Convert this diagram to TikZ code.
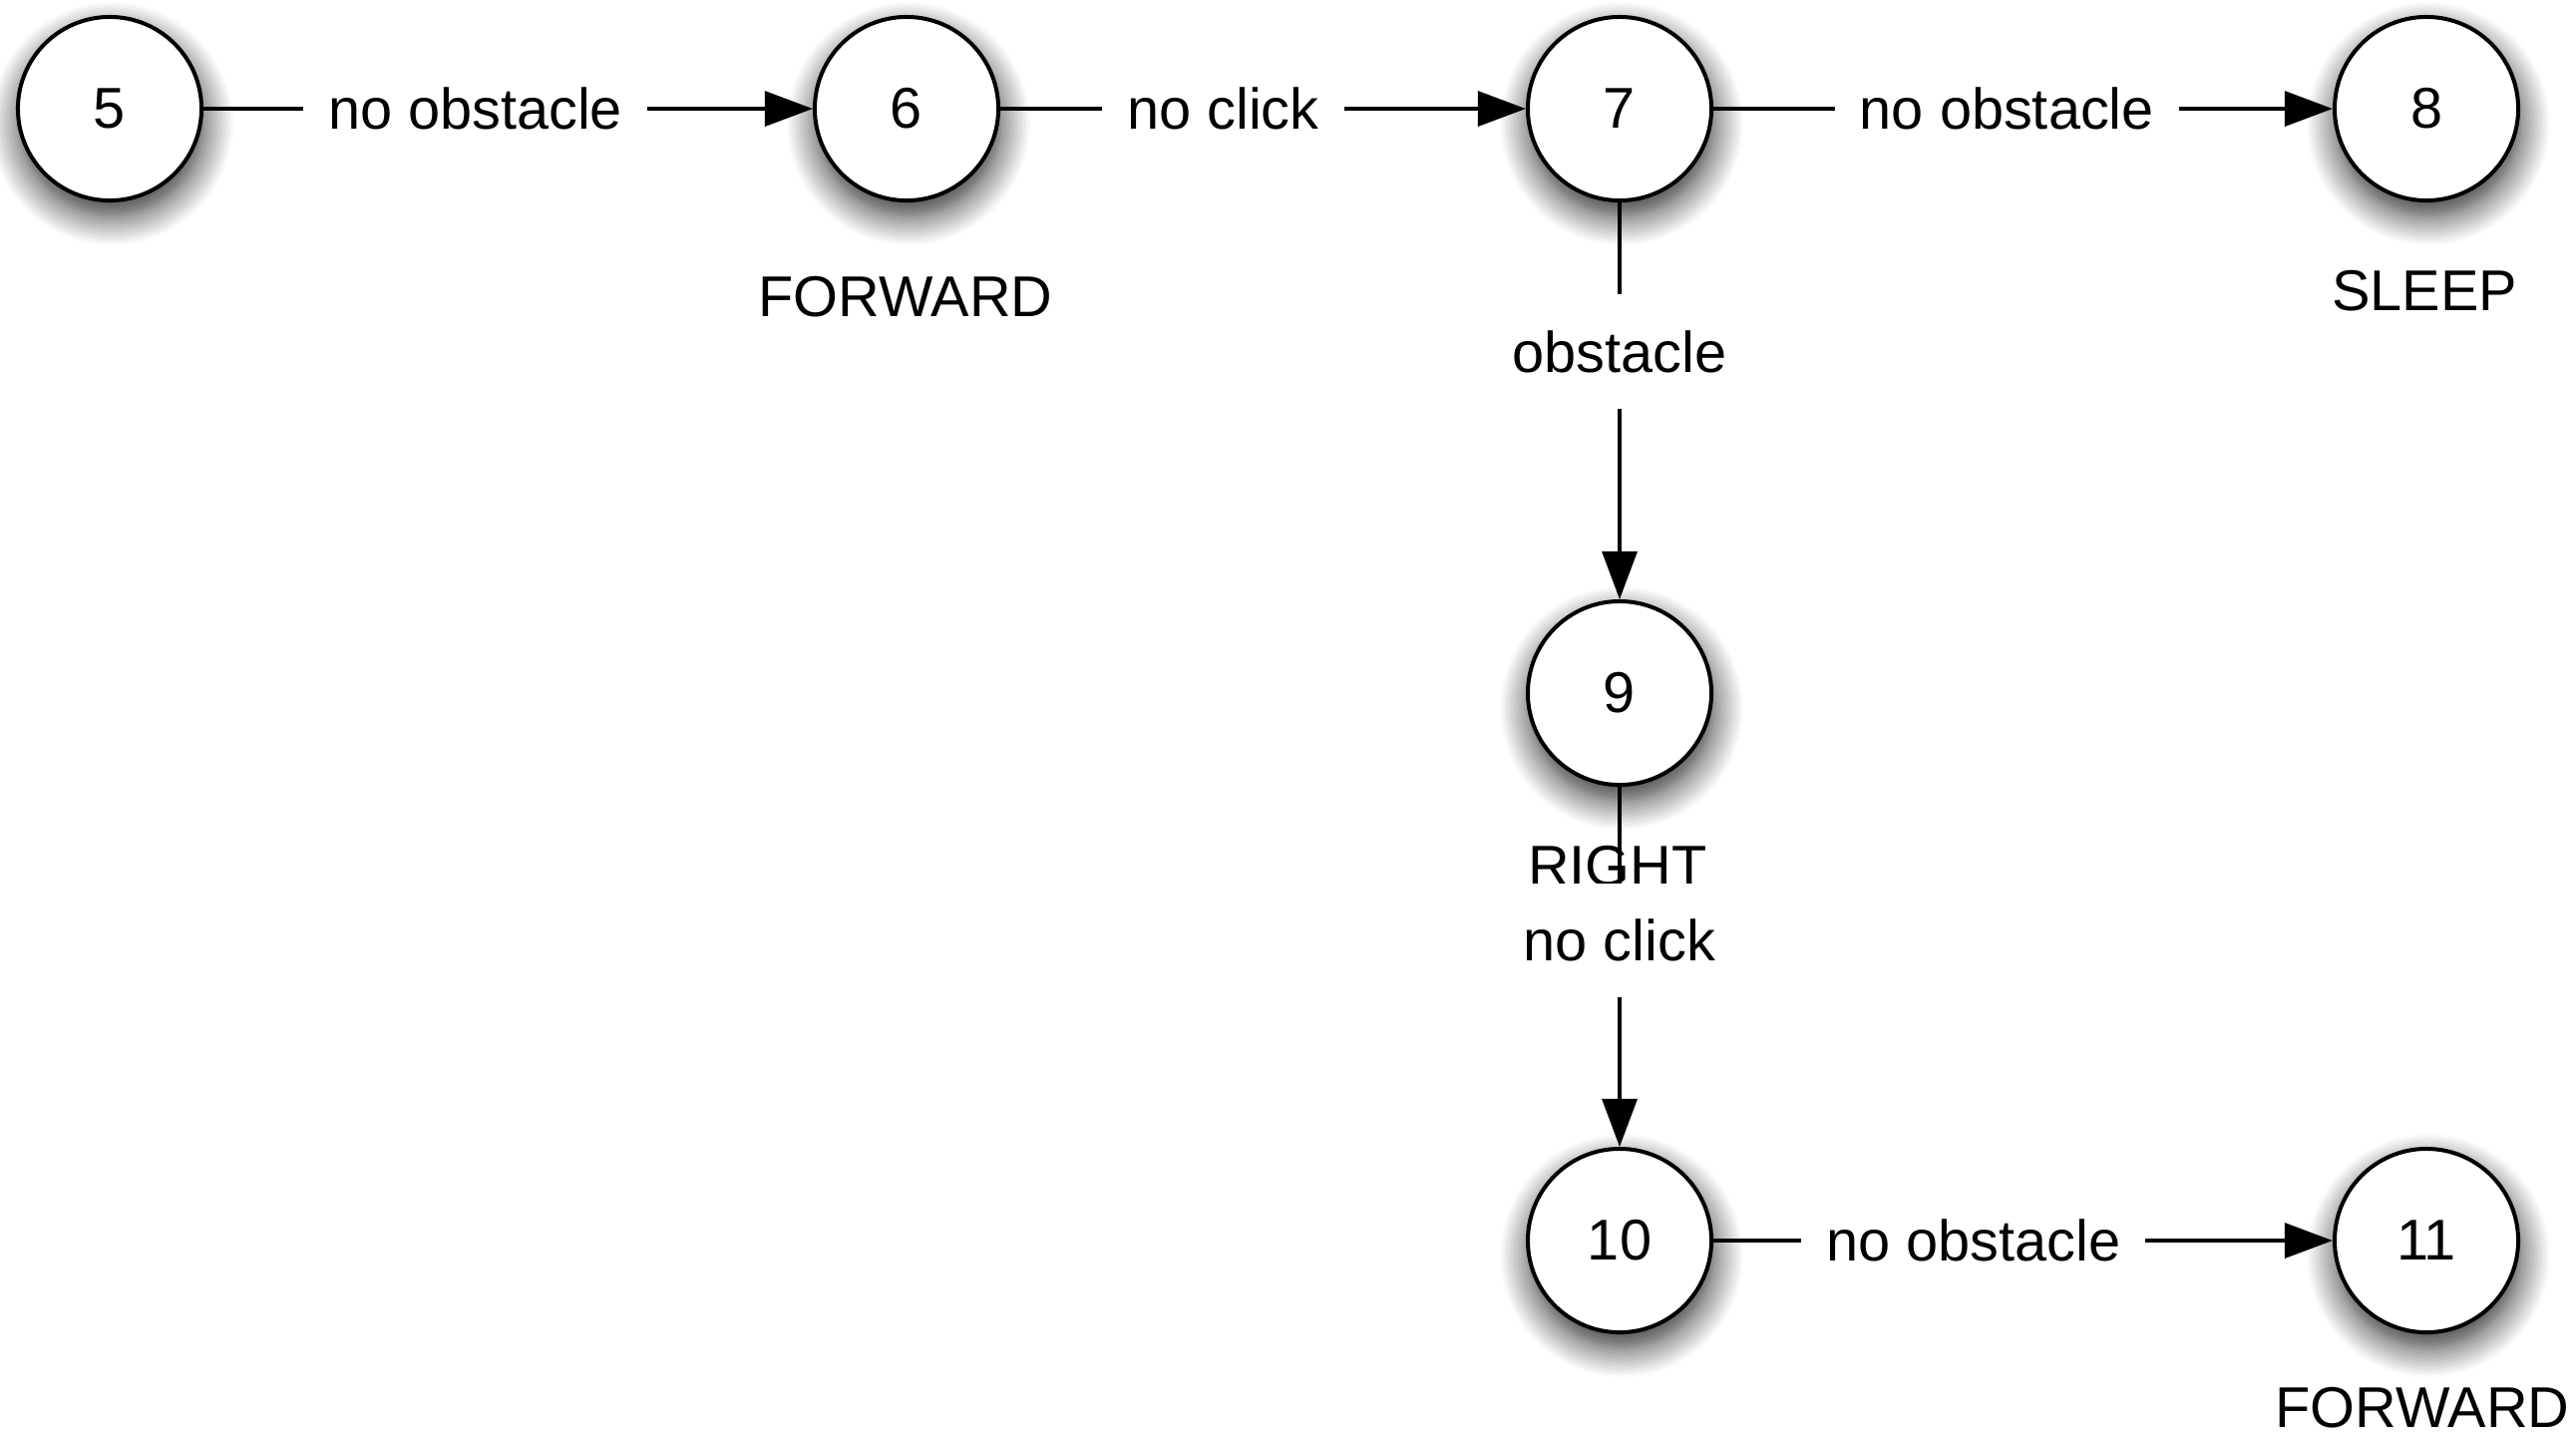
\documentclass[tikz,border=0pt]{standalone}
\usepackage{fontspec}
\setmainfont{Liberation Sans}
\usetikzlibrary{arrows.meta,shadows.blur}
\begin{document}
\begin{tikzpicture}[x=0.01cm,y=-0.01cm,
  font=\fontsize{16.4pt}{19pt}\selectfont,
  state/.style={circle,draw,line width=0.04cm,fill=white,minimum size=1.84cm,inner sep=0pt,
    blur shadow={shadow xshift=0.02cm,shadow yshift=-0.15cm,shadow blur radius=0.3cm,
      shadow blur steps=12,shadow opacity=85}},
  trans/.style={line width=0.033cm,-{Triangle[length=0.48cm,width=0.35cm]}},
  cond/.style={fill=white,inner xsep=0.25cm,inner ysep=0.36cm},
  tag/.style={inner sep=0pt}]
\useasboundingbox (0,0) rectangle (2583,1441);

% states
\node[state] (s5)  at (110,109)   {5};
\node[state] (s6)  at (909,109)   {6};
\node[state] (s7)  at (1624,109)  {7};
\node[state] (s8)  at (2433,109)  {8};
\node[state] (s9)  at (1624,695)  {9};
\node[state] (s10) at (1624,1244) {10};
\node[state] (s11) at (2433,1244) {11};

% actions attached to states
\node[tag] (a6)  at (908,298)   {FORWARD};
\node[tag] (a8)  at (2431,292)  {SLEEP};
\node[tag] (a9)  at (1622,869)  {RIGHT};
\node[tag] (a11) at (2429,1412) {FORWARD};

% transitions
\draw[trans] (s5) -- node[cond,pos=0.446] (c56) {no obstacle} (s6);
\draw[trans] (s6) -- node[cond,pos=0.424] (c67) {no click} (s7);
\draw[trans] (s7) -- node[cond,pos=0.474] (c78) {no obstacle} (s8);
\draw[trans] (s7) -- node[cond,pos=0.376] (c79) {obstacle} (s9);
\draw[trans] (s9) -- node[cond,pos=0.427] (c910) {no click} (s10);
\draw[trans] (s10) -- node[cond,pos=0.42] (c1011) {no obstacle} (s11);
\end{tikzpicture}
\end{document}
